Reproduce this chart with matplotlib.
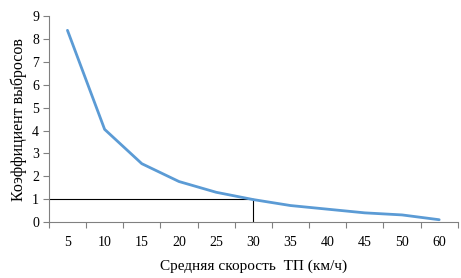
import matplotlib
matplotlib.use("Agg")
import matplotlib.pyplot as plt
import numpy as np

speeds = ["5", "10", "15", "20", "25", "30", "35", "40", "45", "50", "60"]
coef = [8.38, 4.05, 2.55, 1.77, 1.3, 0.98, 0.72, 0.56, 0.4, 0.31, 0.1]
ref_level = 1.0
ref_index = 5

plt.rcParams['font.family'] = ['Liberation Serif', 'DejaVu Serif']

fig = plt.figure(figsize=(4.61, 2.78), dpi=100)
ax = fig.add_axes([0.106, 0.2014, 0.887, 0.7406])

x = np.arange(len(speeds))
ax.plot(x, coef, color='#5B9BD5', linewidth=2.0, solid_capstyle='round', zorder=3)

ax.plot([-0.5, ref_index], [ref_level, ref_level], color='black', linewidth=0.8, zorder=2)
ax.plot([ref_index, ref_index], [0, ref_level], color='black', linewidth=0.8, zorder=2)

ax.set_xlim(-0.5, len(speeds) - 0.5)
ax.set_ylim(0, 9)
ax.set_yticks(range(0, 10))
ax.set_xticks(x)
ax.set_xticklabels(speeds)
ax.set_xticks(np.arange(-0.5, len(speeds), 1.0), minor=True)
ax.tick_params(axis='x', which='major', length=0, labelsize=10, pad=10)
ax.tick_params(axis='x', which='minor', length=4, color='#808080', width=0.8)
ax.tick_params(axis='y', length=4, color='#808080', width=0.8, labelsize=10, pad=3)

for s in ['top', 'right']:
    ax.spines[s].set_visible(False)
for s in ['left', 'bottom']:
    ax.spines[s].set_color('#808080')
    ax.spines[s].set_linewidth(0.8)

ax.set_xlabel('Средняя скорость  ТП (км/ч)', fontsize=11, labelpad=8)
ax.set_ylabel('Коэффициент выбросов', fontsize=11.5, labelpad=4)

fig.savefig('out.png', dpi=100)
